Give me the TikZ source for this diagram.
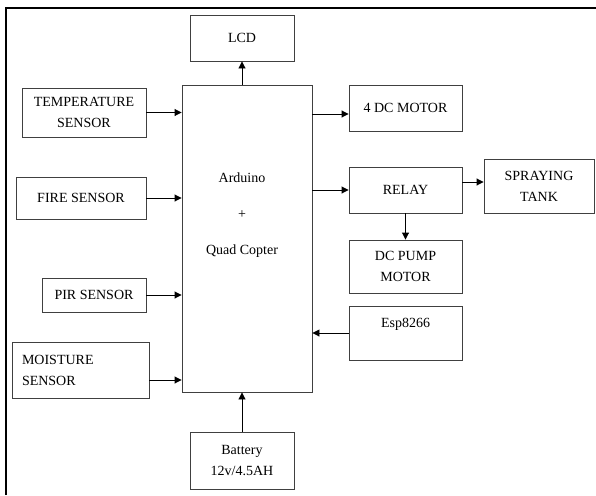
\documentclass[tikz,border=0pt]{standalone}
\usepackage{fontspec}
\setmainfont{Liberation Serif}
\usetikzlibrary{arrows.meta}

\begin{document}
\begin{tikzpicture}[x=1pt,y=-1pt,>={Triangle[length=7pt,width=7pt]},
  blk/.style={draw=black!75,line width=0.9pt,inner sep=0pt,align=center,font=\fontsize{14}{21}\selectfont},
  link/.style={->,line width=0.9pt}]
\useasboundingbox (0,0) rectangle (596,495);
% outer frame, cut off at the right and the bottom
\draw[line width=2.6pt] (6,495) -- (6,8) -- (596,8);
% controller in the middle
\node[blk,minimum width=130pt,minimum height=307pt] (ard) at (247,238.5) {};
\node[font=\fontsize{14}{36}\selectfont,align=center] (ardtxt) at (242,215) {Arduino\\+\\Quad Copter};
\node[blk,minimum width=104pt,minimum height=46pt] (lcd) at (242,38) {LCD};
\node[blk,minimum width=104pt,minimum height=57pt] (batt) at (242,460.5) {Battery\\12v/4.5AH};
% sensors on the left
\node[blk,minimum width=124pt,minimum height=49pt] (temp) at (84,112.5) {TEMPERATURE\\SENSOR};
\node[blk,minimum width=130pt,minimum height=42pt] (fire) at (81,198) {FIRE SENSOR};
\node[blk,minimum width=104pt,minimum height=34pt] (pir) at (94,295) {PIR SENSOR};
\node[blk,minimum width=137pt,minimum height=56pt,text width=117pt,inner xsep=10pt,align=left] (moist) at (80.5,370) {MOISTURE\\SENSOR};
% outputs on the right
\node[blk,minimum width=113pt,minimum height=46pt] (motor) at (405.5,108) {4 DC MOTOR};
\node[blk,minimum width=113pt,minimum height=46pt] (relay) at (405.5,190) {RELAY};
\node[blk,minimum width=110pt,minimum height=54pt] (tank) at (539,186) {SPRAYING\\TANK};
\node[blk,minimum width=113pt,minimum height=53pt] (pump) at (405.5,266.5) {DC PUMP\\MOTOR};
\node[blk,minimum width=113pt,minimum height=54pt] (esp) at (405.5,333) {Esp8266\\\mbox{}};
\coordinate (mo) at ([yshift=-6pt]motor.west);
\coordinate (rt) at ([yshift=8pt]relay.east);
\coordinate (ms) at ([yshift=-10pt]moist.east);
% connections
\draw[link] (ard.north -| lcd) -- (lcd.south);
\draw[link] (temp.east) -- (temp.east -| ard.west);
\draw[link] (fire.east) -- (fire.east -| ard.west);
\draw[link] (pir.east) -- (pir.east -| ard.west);
\draw[link] (ms) -- (ms -| ard.west);
\draw[link] (batt.north) -- (batt.north |- ard.south);
\draw[link] (ard.east |- mo) -- (mo);
\draw[link] (ard.east |- relay) -- (relay.west);
\draw[link] (rt) -- (rt -| tank.west);
\draw[link] (relay.south) -- (pump.north);
\draw[link] (esp.west) -- (esp.west -| ard.east);
\end{tikzpicture}
\end{document}
